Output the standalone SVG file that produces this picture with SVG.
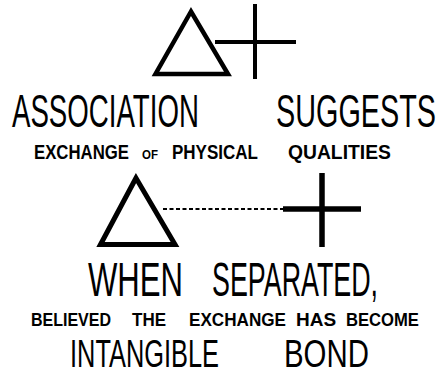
<svg xmlns="http://www.w3.org/2000/svg" width="436" height="376" viewBox="0 0 436 376">
<style>
.bg{fill:#fff}
.tri{fill:none;stroke:#000;stroke-linejoin:miter}
.cross{stroke:#000;stroke-linecap:butt}
.dash{stroke:#000;stroke-width:2;stroke-dasharray:4 2.5}
.big{font-family:"Liberation Sans",Arial,sans-serif;font-weight:normal;fill:#000}
.small{font-family:"Liberation Sans",Arial,sans-serif;font-weight:bold;fill:#000}
</style>
<rect class="bg" width="436" height="376"/>
<g id="triangle-associated">
<polygon class="tri" stroke-width="4.5" points="191,11.5 155.5,74 228,74"/>
</g>
<g id="cross-associated">
<line class="cross" stroke-width="4" x1="255" y1="4" x2="255" y2="79"/>
<line class="cross" stroke-width="4" x1="215" y1="42" x2="296" y2="42"/>
</g>
<g id="triangle-separated">
<polygon class="tri" stroke-width="5" points="136,178 100.5,244.5 175,244.5"/>
</g>
<g id="cross-separated">
<line class="cross" stroke-width="5.5" x1="322" y1="173" x2="322" y2="247"/>
<line class="cross" stroke-width="5.5" x1="283" y1="209" x2="361" y2="209"/>
</g>
<g id="connectors">
<line class="dash" x1="163" y1="209" x2="283" y2="209"/>
</g>
<g id="labels">
<text class="big" x="0" y="127" font-size="46" transform="matrix(0.601 0 0 1 12 0)">ASSOCIATION</text>
<text class="big" x="0" y="127" font-size="46" transform="matrix(0.626 0 0 1 276 0)">SUGGESTS</text>
<text class="small" x="0" y="159" font-size="19.5" transform="matrix(0.86 0 0 1 34 0)">EXCHANGE</text>
<text class="small" x="0" y="159" font-size="13" transform="matrix(0.886 0 0 1 142 0)">OF</text>
<text class="small" x="0" y="159" font-size="19.5" transform="matrix(0.872 0 0 1 172 0)">PHYSICAL</text>
<text class="small" x="0" y="159" font-size="19.5" transform="matrix(0.99 0 0 1 288 0)">QUALITIES</text>
<text class="big" x="0" y="296" font-size="49" transform="matrix(0.635 0 0 1 88 0)">WHEN</text>
<text class="big" x="0" y="296" font-size="49" transform="matrix(0.548 0 0 1 212 0)">SEPARATED,</text>
<text class="small" x="0" y="326" font-size="19" transform="matrix(0.842 0 0 1 31 0)">BELIEVED</text>
<text class="small" x="0" y="326" font-size="19" transform="matrix(0.895 0 0 1 132 0)">THE</text>
<text class="small" x="0" y="326" font-size="19" transform="matrix(0.901 0 0 1 189 0)">EXCHANGE</text>
<text class="small" x="0" y="326" font-size="19" transform="matrix(1 0 0 1 296 0)">HAS</text>
<text class="small" x="0" y="326" font-size="19" transform="matrix(0.875 0 0 1 346 0)">BECOME</text>
<text class="big" x="0" y="367" font-size="39" transform="matrix(0.651 0 0 1 70 0)">INTANGIBLE</text>
<text class="big" x="0" y="367" font-size="39" transform="matrix(0.754 0 0 1 284 0)">BOND</text>
</g>
</svg>
